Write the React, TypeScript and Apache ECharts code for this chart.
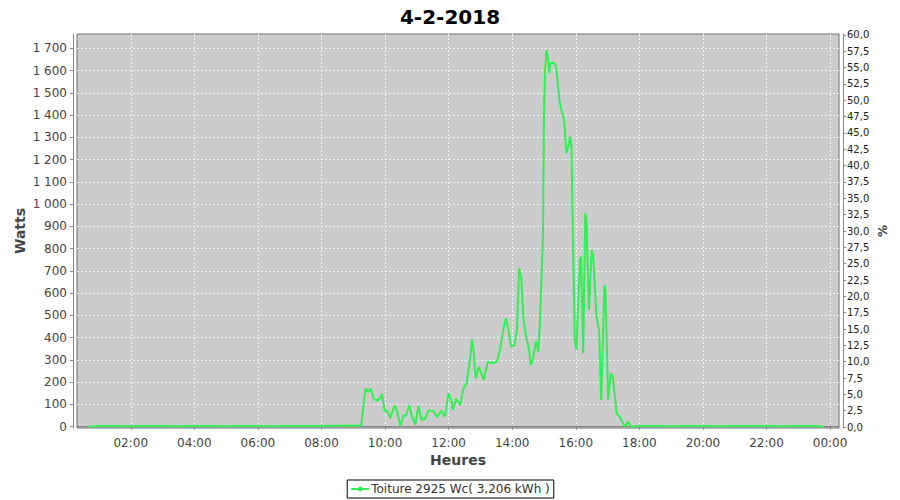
import React, { useEffect, useRef } from "react";
import * as echarts from "echarts";

const titleText = "4-2-2018";
const seriesName = "Toiture 2925 Wc( 3,206 kWh )";

const times = [
  "00:41", "01:00", "01:30", "02:00", "02:30", "03:00", "03:30", "04:00", "04:30", "05:00",
  "05:30", "06:00", "06:30", "07:00", "07:30", "08:00", "08:30", "09:00", "09:10", "09:15",
  "09:23", "09:28", "09:33", "09:38", "09:45", "09:51", "09:54", "09:59", "10:05", "10:10",
  "10:18", "10:22", "10:29", "10:35", "10:39", "10:46", "10:50", "10:57", "11:03", "11:09",
  "11:16", "11:22", "11:31", "11:38", "11:46", "11:53", "12:00", "12:05", "12:08", "12:14",
  "12:22", "12:28", "12:34", "12:41", "12:44", "12:47", "12:51", "12:57", "13:06", "13:14",
  "13:24", "13:31", "13:37", "13:43", "13:48", "13:53", "13:58", "14:04", "14:09", "14:13",
  "14:17", "14:21", "14:27", "14:32", "14:35", "14:38", "14:45", "14:49", "14:52", "14:55",
  "14:58", "15:00", "15:02", "15:05", "15:08", "15:10", "15:12", "15:19", "15:23", "15:26",
  "15:29", "15:33", "15:38", "15:42", "15:46", "15:49", "15:52", "15:53", "15:58", "16:01",
  "16:08", "16:10", "16:14", "16:18", "16:20", "16:25", "16:30", "16:33", "16:39", "16:44",
  "16:48", "16:54", "16:56", "17:01", "17:06", "17:10", "17:17", "17:23", "17:26", "17:33",
  "17:39", "17:44", "18:00", "18:30", "19:00", "19:30", "20:00", "20:30", "21:00", "21:30",
  "22:00", "22:30", "23:00", "23:30", "23:48",
];

const watts = [
  0, 3, 3, 2, 3, 3, 2, 3, 3, 2,
  3, 3, 2, 3, 3, 3, 4, 5, 4, 5,
  172, 157, 171, 128, 117, 128, 147, 75, 67, 38,
  97, 75, 3, 52, 48, 97, 52, 8, 93, 30,
  38, 72, 72, 43, 72, 45, 150, 120, 75, 125,
  97, 172, 195, 314, 390, 345, 217, 270, 210, 292,
  285, 292, 345, 434, 487, 434, 359, 367, 434, 712,
  674, 490, 395, 345, 277, 292, 385, 337, 450, 650,
  850, 1400, 1602, 1692, 1647, 1588, 1633, 1635, 1617, 1543,
  1468, 1423, 1378, 1228, 1258, 1303, 1258, 1060, 390, 345,
  749, 764, 330, 959, 929, 524, 793, 764, 494, 434,
  120, 636, 614, 120, 240, 225, 60, 45, 30, 0,
  22, 0, 3, 3, 2, 3, 3, 2, 3, 3,
  3, 2, 3, 3, 0,
];

const hourTicks = [2, 4, 6, 8, 10, 12, 14, 16, 18, 20, 22, 24];
const wattTicks = [0, 100, 200, 300, 400, 500, 600, 700, 800, 900, 1000, 1100, 1200, 1300, 1400, 1500, 1600, 1700];
const pctTicks = [0, 2.5, 5, 7.5, 10, 12.5, 15, 17.5, 20, 22.5, 25, 27.5, 30, 32.5, 35, 37.5, 40, 42.5, 45, 47.5, 50, 52.5, 55, 57.5, 60];

const toHours = (t: string) => {
  const [h, m] = t.split(":").map(Number);
  return h + m / 60;
};

const FONT = "DejaVu Sans";

export default function App() {
  const ref = useRef<HTMLDivElement>(null);
  useEffect(() => {
    if (!ref.current) return;
    const chart = echarts.init(ref.current, undefined, { renderer: "svg" });
    const data = times.map((t, i) => [toHours(t), watts[i]]);
    chart.setOption({
      animation: false,
      backgroundColor: "#ffffff",
      textStyle: { fontFamily: FONT },
      title: {
        text: titleText,
        left: "center",
        top: 2,
        textStyle: { fontFamily: FONT, fontSize: 20, fontWeight: "bold", color: "#000000" },
      },
      grid: {
        left: 77,
        right: 61,
        top: 34,
        bottom: 72,
        show: true,
        backgroundColor: "#cccccc",
        borderColor: "#707070",
        borderWidth: 1,
      },
      legend: {
        data: [seriesName],
        left: "center",
        bottom: 2,
        borderColor: "#000000",
        borderWidth: 1,
        padding: [3, 4, 3, 3],
        itemWidth: 18,
        itemHeight: 6,
        itemGap: 4,
        textStyle: { fontFamily: FONT, fontSize: 12, color: "#333333", padding: [0, 0, 0, -3] },
      },
      xAxis: {
        type: "value",
        min: 0.309,
        max: 24.28,
        offset: 4,
        name: "Heures",
        nameLocation: "middle",
        nameGap: 21,
        nameMoveOverlap: false,
        nameTextStyle: { fontFamily: FONT, fontSize: 14, fontWeight: "bold", color: "#444444" },
        axisLine: { show: true, lineStyle: { color: "#888888", width: 1 } },
        axisTick: { show: true, length: 3, customValues: hourTicks, lineStyle: { color: "#888888" } },
        axisLabel: {
          customValues: hourTicks,
          margin: 5,
          fontFamily: FONT,
          fontSize: 12,
          color: "#444444",
          formatter: (v: number) => String(Math.round(v) % 24).padStart(2, "0") + ":00",
        },
        splitLine: { show: true, lineStyle: { color: "#f4f4f4", type: [2, 2], width: 1 } },
      },
      yAxis: [
        {
          type: "value",
          min: -5.8,
          max: 1764,
          offset: 4,
          position: "left",
          name: "Watts",
          nameLocation: "middle",
          nameGap: 46,
          nameMoveOverlap: false,
          nameTextStyle: { fontFamily: FONT, fontSize: 14, fontWeight: "bold", color: "#444444" },
          axisLine: { show: true, lineStyle: { color: "#888888", width: 1 } },
          axisTick: { show: true, length: 3, customValues: wattTicks, lineStyle: { color: "#888888" } },
          axisLabel: {
            customValues: wattTicks,
            margin: 6,
            fontFamily: FONT,
            fontSize: 12,
            color: "#444444",
            formatter: (v: number) => String(Math.round(v)).replace(/\B(?=(\d{3})+(?!\d))/g, " "),
          },
          splitLine: { show: true, lineStyle: { color: "#f4f4f4", type: [2, 2], width: 1 } },
        },
        {
          type: "value",
          min: -0.15,
          max: 60.15,
          offset: 4,
          position: "right",
          name: "%",
          nameLocation: "middle",
          nameGap: 34,
          nameMoveOverlap: false,
          nameTextStyle: { fontFamily: FONT, fontSize: 12, fontWeight: "bold", color: "#444444" },
          axisLine: { show: true, lineStyle: { color: "#888888", width: 1 } },
          axisTick: { show: true, length: 3, customValues: pctTicks, lineStyle: { color: "#888888" } },
          axisLabel: {
            customValues: pctTicks,
            margin: 4,
            fontFamily: FONT,
            fontSize: 10,
            color: "#222222",
            formatter: (v: number) => v.toFixed(1).replace(".", ","),
          },
          splitLine: { show: false },
        },
      ],
      series: [
        {
          name: seriesName,
          type: "line",
          yAxisIndex: 0,
          data,
          showSymbol: false,
          symbol: "circle",
          symbolSize: 2,
          lineStyle: { color: "#33ee55", width: 2 },
          itemStyle: { color: "#33ee55" },
        },
      ],
    });
    return () => chart.dispose();
  }, []);
  return (
    <div
      ref={ref}
      style={{ position: "fixed", left: 0, top: 0, width: 900, height: 500 }}
    />
  );
}
